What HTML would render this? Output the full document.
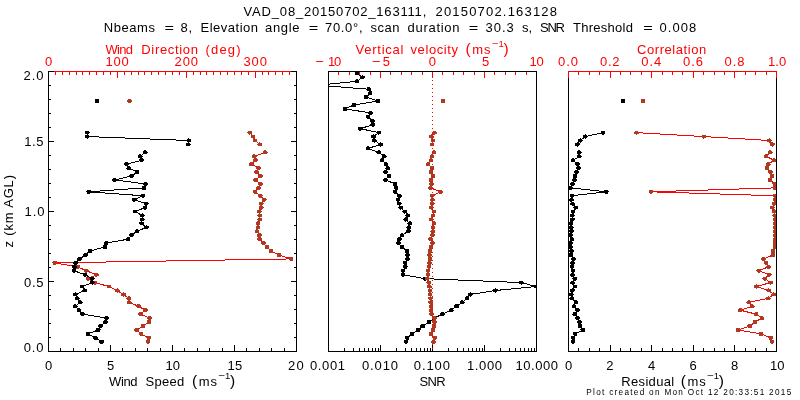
<!DOCTYPE html>
<html><head><meta charset="utf-8"><title>VAD plot</title>
<style>html,body{margin:0;padding:0;background:#fff}svg{display:block}svg{will-change:transform}</style></head>
<body>
<svg width="800" height="400" viewBox="0 0 800 400">
<rect width="800" height="400" fill="#fff"/>
<defs>
<clipPath id="c0"><rect x="48.0" y="71.0" width="249.0" height="281.0"/></clipPath>
<clipPath id="c1"><rect x="328.0" y="71.0" width="209.0" height="281.0"/></clipPath>
<clipPath id="c2"><rect x="568.0" y="71.0" width="209.0" height="281.0"/></clipPath>
</defs>
<g clip-path="url(#c0)">
<polyline points="148.00,341.80 148.75,337.85 141.25,333.91 136.50,329.96 143.10,326.01 149.00,322.06 149.40,318.12 140.60,314.17 145.60,310.22 138.50,306.28 129.40,302.33 128.75,298.38 123.50,294.44 117.25,290.49 109.00,286.54 95.00,282.60 88.10,278.65 96.50,274.70 86.25,270.75 77.75,266.81 54.75,262.86 291.25,258.91 279.00,254.97 271.00,251.02 267.25,247.07 263.50,243.12 259.60,239.18 259.40,235.23 256.90,231.28 258.10,227.34 258.10,223.39 259.60,219.44 259.60,215.50 259.40,211.55 261.25,207.60 261.25,203.66 264.40,199.71 260.25,195.76 255.00,191.81 258.50,187.87 260.60,183.92 255.60,179.97 260.40,176.03 256.50,172.08 258.50,168.13 251.40,164.19 255.40,160.24 254.40,156.29 265.25,152.34" fill="none" stroke="#ff0000" stroke-width="1" stroke-linejoin="round" shape-rendering="crispEdges"/>
<polyline points="259.75,144.45 255.00,140.50 253.10,136.56 249.75,132.61" fill="none" stroke="#ff0000" stroke-width="1" stroke-linejoin="round" shape-rendering="crispEdges"/>
<ellipse cx="148.00" cy="341.80" rx="2.4" ry="2.1" fill="#ae3a22" shape-rendering="crispEdges"/>
<ellipse cx="148.75" cy="337.85" rx="2.4" ry="2.1" fill="#ae3a22" shape-rendering="crispEdges"/>
<ellipse cx="141.25" cy="333.91" rx="2.4" ry="2.1" fill="#ae3a22" shape-rendering="crispEdges"/>
<ellipse cx="136.50" cy="329.96" rx="2.4" ry="2.1" fill="#ae3a22" shape-rendering="crispEdges"/>
<ellipse cx="143.10" cy="326.01" rx="2.4" ry="2.1" fill="#ae3a22" shape-rendering="crispEdges"/>
<ellipse cx="149.00" cy="322.06" rx="2.4" ry="2.1" fill="#ae3a22" shape-rendering="crispEdges"/>
<ellipse cx="149.40" cy="318.12" rx="2.4" ry="2.1" fill="#ae3a22" shape-rendering="crispEdges"/>
<ellipse cx="140.60" cy="314.17" rx="2.4" ry="2.1" fill="#ae3a22" shape-rendering="crispEdges"/>
<ellipse cx="145.60" cy="310.22" rx="2.4" ry="2.1" fill="#ae3a22" shape-rendering="crispEdges"/>
<ellipse cx="138.50" cy="306.28" rx="2.4" ry="2.1" fill="#ae3a22" shape-rendering="crispEdges"/>
<ellipse cx="129.40" cy="302.33" rx="2.4" ry="2.1" fill="#ae3a22" shape-rendering="crispEdges"/>
<ellipse cx="128.75" cy="298.38" rx="2.4" ry="2.1" fill="#ae3a22" shape-rendering="crispEdges"/>
<ellipse cx="123.50" cy="294.44" rx="2.4" ry="2.1" fill="#ae3a22" shape-rendering="crispEdges"/>
<ellipse cx="117.25" cy="290.49" rx="2.4" ry="2.1" fill="#ae3a22" shape-rendering="crispEdges"/>
<ellipse cx="109.00" cy="286.54" rx="2.4" ry="2.1" fill="#ae3a22" shape-rendering="crispEdges"/>
<ellipse cx="95.00" cy="282.60" rx="2.4" ry="2.1" fill="#ae3a22" shape-rendering="crispEdges"/>
<ellipse cx="88.10" cy="278.65" rx="2.4" ry="2.1" fill="#ae3a22" shape-rendering="crispEdges"/>
<ellipse cx="96.50" cy="274.70" rx="2.4" ry="2.1" fill="#ae3a22" shape-rendering="crispEdges"/>
<ellipse cx="86.25" cy="270.75" rx="2.4" ry="2.1" fill="#ae3a22" shape-rendering="crispEdges"/>
<ellipse cx="77.75" cy="266.81" rx="2.4" ry="2.1" fill="#ae3a22" shape-rendering="crispEdges"/>
<ellipse cx="54.75" cy="262.86" rx="2.4" ry="2.1" fill="#ae3a22" shape-rendering="crispEdges"/>
<ellipse cx="291.25" cy="258.91" rx="2.4" ry="2.1" fill="#ae3a22" shape-rendering="crispEdges"/>
<ellipse cx="279.00" cy="254.97" rx="2.4" ry="2.1" fill="#ae3a22" shape-rendering="crispEdges"/>
<ellipse cx="271.00" cy="251.02" rx="2.4" ry="2.1" fill="#ae3a22" shape-rendering="crispEdges"/>
<ellipse cx="267.25" cy="247.07" rx="2.4" ry="2.1" fill="#ae3a22" shape-rendering="crispEdges"/>
<ellipse cx="263.50" cy="243.12" rx="2.4" ry="2.1" fill="#ae3a22" shape-rendering="crispEdges"/>
<ellipse cx="259.60" cy="239.18" rx="2.4" ry="2.1" fill="#ae3a22" shape-rendering="crispEdges"/>
<ellipse cx="259.40" cy="235.23" rx="2.4" ry="2.1" fill="#ae3a22" shape-rendering="crispEdges"/>
<ellipse cx="256.90" cy="231.28" rx="2.4" ry="2.1" fill="#ae3a22" shape-rendering="crispEdges"/>
<ellipse cx="258.10" cy="227.34" rx="2.4" ry="2.1" fill="#ae3a22" shape-rendering="crispEdges"/>
<ellipse cx="258.10" cy="223.39" rx="2.4" ry="2.1" fill="#ae3a22" shape-rendering="crispEdges"/>
<ellipse cx="259.60" cy="219.44" rx="2.4" ry="2.1" fill="#ae3a22" shape-rendering="crispEdges"/>
<ellipse cx="259.60" cy="215.50" rx="2.4" ry="2.1" fill="#ae3a22" shape-rendering="crispEdges"/>
<ellipse cx="259.40" cy="211.55" rx="2.4" ry="2.1" fill="#ae3a22" shape-rendering="crispEdges"/>
<ellipse cx="261.25" cy="207.60" rx="2.4" ry="2.1" fill="#ae3a22" shape-rendering="crispEdges"/>
<ellipse cx="261.25" cy="203.66" rx="2.4" ry="2.1" fill="#ae3a22" shape-rendering="crispEdges"/>
<ellipse cx="264.40" cy="199.71" rx="2.4" ry="2.1" fill="#ae3a22" shape-rendering="crispEdges"/>
<ellipse cx="260.25" cy="195.76" rx="2.4" ry="2.1" fill="#ae3a22" shape-rendering="crispEdges"/>
<ellipse cx="255.00" cy="191.81" rx="2.4" ry="2.1" fill="#ae3a22" shape-rendering="crispEdges"/>
<ellipse cx="258.50" cy="187.87" rx="2.4" ry="2.1" fill="#ae3a22" shape-rendering="crispEdges"/>
<ellipse cx="260.60" cy="183.92" rx="2.4" ry="2.1" fill="#ae3a22" shape-rendering="crispEdges"/>
<ellipse cx="255.60" cy="179.97" rx="2.4" ry="2.1" fill="#ae3a22" shape-rendering="crispEdges"/>
<ellipse cx="260.40" cy="176.03" rx="2.4" ry="2.1" fill="#ae3a22" shape-rendering="crispEdges"/>
<ellipse cx="256.50" cy="172.08" rx="2.4" ry="2.1" fill="#ae3a22" shape-rendering="crispEdges"/>
<ellipse cx="258.50" cy="168.13" rx="2.4" ry="2.1" fill="#ae3a22" shape-rendering="crispEdges"/>
<ellipse cx="251.40" cy="164.19" rx="2.4" ry="2.1" fill="#ae3a22" shape-rendering="crispEdges"/>
<ellipse cx="255.40" cy="160.24" rx="2.4" ry="2.1" fill="#ae3a22" shape-rendering="crispEdges"/>
<ellipse cx="254.40" cy="156.29" rx="2.4" ry="2.1" fill="#ae3a22" shape-rendering="crispEdges"/>
<ellipse cx="265.25" cy="152.34" rx="2.4" ry="2.1" fill="#ae3a22" shape-rendering="crispEdges"/>
<ellipse cx="259.75" cy="144.45" rx="2.4" ry="2.1" fill="#ae3a22" shape-rendering="crispEdges"/>
<ellipse cx="255.00" cy="140.50" rx="2.4" ry="2.1" fill="#ae3a22" shape-rendering="crispEdges"/>
<ellipse cx="253.10" cy="136.56" rx="2.4" ry="2.1" fill="#ae3a22" shape-rendering="crispEdges"/>
<ellipse cx="249.75" cy="132.61" rx="2.4" ry="2.1" fill="#ae3a22" shape-rendering="crispEdges"/>
<ellipse cx="129.50" cy="101.03" rx="2.4" ry="2.1" fill="#ae3a22" shape-rendering="crispEdges"/>
</g>
<g clip-path="url(#c0)">
<polyline points="101.60,341.80 95.50,337.85 88.00,333.91 98.30,329.96 100.60,326.01 105.40,322.06 106.40,318.12 82.50,314.17 79.00,310.22 75.20,306.28 80.20,302.33 77.20,298.38 75.20,294.44 84.80,290.49 82.00,286.54 92.40,282.60 92.25,278.65 85.00,274.70 74.00,270.75 74.40,266.81 75.60,262.86 79.40,258.91 85.60,254.97 89.75,251.02 104.75,247.07 106.25,243.12 128.00,239.18 131.50,235.23 136.90,231.28 146.50,227.34 141.50,223.39 142.25,219.44 142.25,215.50 135.00,211.55 145.00,207.60 146.25,203.66 134.40,199.71 142.75,195.76 88.75,191.81 144.00,187.87 145.60,183.92 114.60,179.97 131.50,176.03 137.25,172.08 128.75,168.13 126.50,164.19 141.50,160.24 140.40,156.29 145.25,152.34" fill="none" stroke="#000" stroke-width="1" stroke-linejoin="round" shape-rendering="crispEdges"/>
<polyline points="188.25,144.45 188.75,140.50 87.25,136.56 87.25,132.61" fill="none" stroke="#000" stroke-width="1" stroke-linejoin="round" shape-rendering="crispEdges"/>
<ellipse cx="101.60" cy="341.80" rx="2.4" ry="2.1" fill="#000" shape-rendering="crispEdges"/>
<ellipse cx="95.50" cy="337.85" rx="2.4" ry="2.1" fill="#000" shape-rendering="crispEdges"/>
<ellipse cx="88.00" cy="333.91" rx="2.4" ry="2.1" fill="#000" shape-rendering="crispEdges"/>
<ellipse cx="98.30" cy="329.96" rx="2.4" ry="2.1" fill="#000" shape-rendering="crispEdges"/>
<ellipse cx="100.60" cy="326.01" rx="2.4" ry="2.1" fill="#000" shape-rendering="crispEdges"/>
<ellipse cx="105.40" cy="322.06" rx="2.4" ry="2.1" fill="#000" shape-rendering="crispEdges"/>
<ellipse cx="106.40" cy="318.12" rx="2.4" ry="2.1" fill="#000" shape-rendering="crispEdges"/>
<ellipse cx="82.50" cy="314.17" rx="2.4" ry="2.1" fill="#000" shape-rendering="crispEdges"/>
<ellipse cx="79.00" cy="310.22" rx="2.4" ry="2.1" fill="#000" shape-rendering="crispEdges"/>
<ellipse cx="75.20" cy="306.28" rx="2.4" ry="2.1" fill="#000" shape-rendering="crispEdges"/>
<ellipse cx="80.20" cy="302.33" rx="2.4" ry="2.1" fill="#000" shape-rendering="crispEdges"/>
<ellipse cx="77.20" cy="298.38" rx="2.4" ry="2.1" fill="#000" shape-rendering="crispEdges"/>
<ellipse cx="75.20" cy="294.44" rx="2.4" ry="2.1" fill="#000" shape-rendering="crispEdges"/>
<ellipse cx="84.80" cy="290.49" rx="2.4" ry="2.1" fill="#000" shape-rendering="crispEdges"/>
<ellipse cx="82.00" cy="286.54" rx="2.4" ry="2.1" fill="#000" shape-rendering="crispEdges"/>
<ellipse cx="92.40" cy="282.60" rx="2.4" ry="2.1" fill="#000" shape-rendering="crispEdges"/>
<ellipse cx="92.25" cy="278.65" rx="2.4" ry="2.1" fill="#000" shape-rendering="crispEdges"/>
<ellipse cx="85.00" cy="274.70" rx="2.4" ry="2.1" fill="#000" shape-rendering="crispEdges"/>
<ellipse cx="74.00" cy="270.75" rx="2.4" ry="2.1" fill="#000" shape-rendering="crispEdges"/>
<ellipse cx="74.40" cy="266.81" rx="2.4" ry="2.1" fill="#000" shape-rendering="crispEdges"/>
<ellipse cx="75.60" cy="262.86" rx="2.4" ry="2.1" fill="#000" shape-rendering="crispEdges"/>
<ellipse cx="79.40" cy="258.91" rx="2.4" ry="2.1" fill="#000" shape-rendering="crispEdges"/>
<ellipse cx="85.60" cy="254.97" rx="2.4" ry="2.1" fill="#000" shape-rendering="crispEdges"/>
<ellipse cx="89.75" cy="251.02" rx="2.4" ry="2.1" fill="#000" shape-rendering="crispEdges"/>
<ellipse cx="104.75" cy="247.07" rx="2.4" ry="2.1" fill="#000" shape-rendering="crispEdges"/>
<ellipse cx="106.25" cy="243.12" rx="2.4" ry="2.1" fill="#000" shape-rendering="crispEdges"/>
<ellipse cx="128.00" cy="239.18" rx="2.4" ry="2.1" fill="#000" shape-rendering="crispEdges"/>
<ellipse cx="131.50" cy="235.23" rx="2.4" ry="2.1" fill="#000" shape-rendering="crispEdges"/>
<ellipse cx="136.90" cy="231.28" rx="2.4" ry="2.1" fill="#000" shape-rendering="crispEdges"/>
<ellipse cx="146.50" cy="227.34" rx="2.4" ry="2.1" fill="#000" shape-rendering="crispEdges"/>
<ellipse cx="141.50" cy="223.39" rx="2.4" ry="2.1" fill="#000" shape-rendering="crispEdges"/>
<ellipse cx="142.25" cy="219.44" rx="2.4" ry="2.1" fill="#000" shape-rendering="crispEdges"/>
<ellipse cx="142.25" cy="215.50" rx="2.4" ry="2.1" fill="#000" shape-rendering="crispEdges"/>
<ellipse cx="135.00" cy="211.55" rx="2.4" ry="2.1" fill="#000" shape-rendering="crispEdges"/>
<ellipse cx="145.00" cy="207.60" rx="2.4" ry="2.1" fill="#000" shape-rendering="crispEdges"/>
<ellipse cx="146.25" cy="203.66" rx="2.4" ry="2.1" fill="#000" shape-rendering="crispEdges"/>
<ellipse cx="134.40" cy="199.71" rx="2.4" ry="2.1" fill="#000" shape-rendering="crispEdges"/>
<ellipse cx="142.75" cy="195.76" rx="2.4" ry="2.1" fill="#000" shape-rendering="crispEdges"/>
<ellipse cx="88.75" cy="191.81" rx="2.4" ry="2.1" fill="#000" shape-rendering="crispEdges"/>
<ellipse cx="144.00" cy="187.87" rx="2.4" ry="2.1" fill="#000" shape-rendering="crispEdges"/>
<ellipse cx="145.60" cy="183.92" rx="2.4" ry="2.1" fill="#000" shape-rendering="crispEdges"/>
<ellipse cx="114.60" cy="179.97" rx="2.4" ry="2.1" fill="#000" shape-rendering="crispEdges"/>
<ellipse cx="131.50" cy="176.03" rx="2.4" ry="2.1" fill="#000" shape-rendering="crispEdges"/>
<ellipse cx="137.25" cy="172.08" rx="2.4" ry="2.1" fill="#000" shape-rendering="crispEdges"/>
<ellipse cx="128.75" cy="168.13" rx="2.4" ry="2.1" fill="#000" shape-rendering="crispEdges"/>
<ellipse cx="126.50" cy="164.19" rx="2.4" ry="2.1" fill="#000" shape-rendering="crispEdges"/>
<ellipse cx="141.50" cy="160.24" rx="2.4" ry="2.1" fill="#000" shape-rendering="crispEdges"/>
<ellipse cx="140.40" cy="156.29" rx="2.4" ry="2.1" fill="#000" shape-rendering="crispEdges"/>
<ellipse cx="145.25" cy="152.34" rx="2.4" ry="2.1" fill="#000" shape-rendering="crispEdges"/>
<ellipse cx="188.25" cy="144.45" rx="2.4" ry="2.1" fill="#000" shape-rendering="crispEdges"/>
<ellipse cx="188.75" cy="140.50" rx="2.4" ry="2.1" fill="#000" shape-rendering="crispEdges"/>
<ellipse cx="87.25" cy="136.56" rx="2.4" ry="2.1" fill="#000" shape-rendering="crispEdges"/>
<ellipse cx="87.25" cy="132.61" rx="2.4" ry="2.1" fill="#000" shape-rendering="crispEdges"/>
<ellipse cx="97.00" cy="101.03" rx="2.4" ry="2.1" fill="#000" shape-rendering="crispEdges"/>
</g>
<g clip-path="url(#c1)">
<polyline points="406.00,341.80 407.25,337.85 412.00,333.91 418.30,329.96 422.70,326.01 429.20,322.06 434.00,318.12 442.50,314.17 451.25,310.22 456.60,306.28 462.30,302.33 467.00,298.38 470.50,294.44 495.50,290.49 536.25,286.54 521.25,282.60 425.00,278.65 403.10,274.70 403.10,270.75 405.25,266.81 405.25,262.86 407.50,258.91 407.50,254.97 406.90,251.02 401.90,247.07 398.50,243.12 399.40,239.18 401.90,235.23 408.50,231.28 408.75,227.34 409.75,223.39 405.60,219.44 407.75,215.50 404.75,211.55 400.60,207.60 399.40,203.66 398.10,199.71 399.40,195.76 395.00,191.81 396.25,187.87 395.00,183.92 385.60,179.97 388.75,176.03 385.60,172.08 387.75,168.13 386.00,164.19 381.90,160.24 384.40,156.29 378.60,152.34 368.10,148.40 380.60,144.45 374.40,140.50 373.50,136.56 378.75,132.61 360.25,128.66 372.75,124.72 372.50,120.77 368.10,116.82 370.60,112.87 345.00,108.93 353.75,104.98 377.75,101.03 366.25,97.09 370.25,93.14 368.75,89.19 318.00,85.25 356.90,81.30 362.50,77.35 356.90,73.40" fill="none" stroke="#000" stroke-width="1" stroke-linejoin="round" shape-rendering="crispEdges"/>
<ellipse cx="406.00" cy="341.80" rx="2.4" ry="2.1" fill="#000" shape-rendering="crispEdges"/>
<ellipse cx="407.25" cy="337.85" rx="2.4" ry="2.1" fill="#000" shape-rendering="crispEdges"/>
<ellipse cx="412.00" cy="333.91" rx="2.4" ry="2.1" fill="#000" shape-rendering="crispEdges"/>
<ellipse cx="418.30" cy="329.96" rx="2.4" ry="2.1" fill="#000" shape-rendering="crispEdges"/>
<ellipse cx="422.70" cy="326.01" rx="2.4" ry="2.1" fill="#000" shape-rendering="crispEdges"/>
<ellipse cx="429.20" cy="322.06" rx="2.4" ry="2.1" fill="#000" shape-rendering="crispEdges"/>
<ellipse cx="434.00" cy="318.12" rx="2.4" ry="2.1" fill="#000" shape-rendering="crispEdges"/>
<ellipse cx="442.50" cy="314.17" rx="2.4" ry="2.1" fill="#000" shape-rendering="crispEdges"/>
<ellipse cx="451.25" cy="310.22" rx="2.4" ry="2.1" fill="#000" shape-rendering="crispEdges"/>
<ellipse cx="456.60" cy="306.28" rx="2.4" ry="2.1" fill="#000" shape-rendering="crispEdges"/>
<ellipse cx="462.30" cy="302.33" rx="2.4" ry="2.1" fill="#000" shape-rendering="crispEdges"/>
<ellipse cx="467.00" cy="298.38" rx="2.4" ry="2.1" fill="#000" shape-rendering="crispEdges"/>
<ellipse cx="470.50" cy="294.44" rx="2.4" ry="2.1" fill="#000" shape-rendering="crispEdges"/>
<ellipse cx="495.50" cy="290.49" rx="2.4" ry="2.1" fill="#000" shape-rendering="crispEdges"/>
<ellipse cx="536.25" cy="286.54" rx="2.4" ry="2.1" fill="#000" shape-rendering="crispEdges"/>
<ellipse cx="521.25" cy="282.60" rx="2.4" ry="2.1" fill="#000" shape-rendering="crispEdges"/>
<ellipse cx="425.00" cy="278.65" rx="2.4" ry="2.1" fill="#000" shape-rendering="crispEdges"/>
<ellipse cx="403.10" cy="274.70" rx="2.4" ry="2.1" fill="#000" shape-rendering="crispEdges"/>
<ellipse cx="403.10" cy="270.75" rx="2.4" ry="2.1" fill="#000" shape-rendering="crispEdges"/>
<ellipse cx="405.25" cy="266.81" rx="2.4" ry="2.1" fill="#000" shape-rendering="crispEdges"/>
<ellipse cx="405.25" cy="262.86" rx="2.4" ry="2.1" fill="#000" shape-rendering="crispEdges"/>
<ellipse cx="407.50" cy="258.91" rx="2.4" ry="2.1" fill="#000" shape-rendering="crispEdges"/>
<ellipse cx="407.50" cy="254.97" rx="2.4" ry="2.1" fill="#000" shape-rendering="crispEdges"/>
<ellipse cx="406.90" cy="251.02" rx="2.4" ry="2.1" fill="#000" shape-rendering="crispEdges"/>
<ellipse cx="401.90" cy="247.07" rx="2.4" ry="2.1" fill="#000" shape-rendering="crispEdges"/>
<ellipse cx="398.50" cy="243.12" rx="2.4" ry="2.1" fill="#000" shape-rendering="crispEdges"/>
<ellipse cx="399.40" cy="239.18" rx="2.4" ry="2.1" fill="#000" shape-rendering="crispEdges"/>
<ellipse cx="401.90" cy="235.23" rx="2.4" ry="2.1" fill="#000" shape-rendering="crispEdges"/>
<ellipse cx="408.50" cy="231.28" rx="2.4" ry="2.1" fill="#000" shape-rendering="crispEdges"/>
<ellipse cx="408.75" cy="227.34" rx="2.4" ry="2.1" fill="#000" shape-rendering="crispEdges"/>
<ellipse cx="409.75" cy="223.39" rx="2.4" ry="2.1" fill="#000" shape-rendering="crispEdges"/>
<ellipse cx="405.60" cy="219.44" rx="2.4" ry="2.1" fill="#000" shape-rendering="crispEdges"/>
<ellipse cx="407.75" cy="215.50" rx="2.4" ry="2.1" fill="#000" shape-rendering="crispEdges"/>
<ellipse cx="404.75" cy="211.55" rx="2.4" ry="2.1" fill="#000" shape-rendering="crispEdges"/>
<ellipse cx="400.60" cy="207.60" rx="2.4" ry="2.1" fill="#000" shape-rendering="crispEdges"/>
<ellipse cx="399.40" cy="203.66" rx="2.4" ry="2.1" fill="#000" shape-rendering="crispEdges"/>
<ellipse cx="398.10" cy="199.71" rx="2.4" ry="2.1" fill="#000" shape-rendering="crispEdges"/>
<ellipse cx="399.40" cy="195.76" rx="2.4" ry="2.1" fill="#000" shape-rendering="crispEdges"/>
<ellipse cx="395.00" cy="191.81" rx="2.4" ry="2.1" fill="#000" shape-rendering="crispEdges"/>
<ellipse cx="396.25" cy="187.87" rx="2.4" ry="2.1" fill="#000" shape-rendering="crispEdges"/>
<ellipse cx="395.00" cy="183.92" rx="2.4" ry="2.1" fill="#000" shape-rendering="crispEdges"/>
<ellipse cx="385.60" cy="179.97" rx="2.4" ry="2.1" fill="#000" shape-rendering="crispEdges"/>
<ellipse cx="388.75" cy="176.03" rx="2.4" ry="2.1" fill="#000" shape-rendering="crispEdges"/>
<ellipse cx="385.60" cy="172.08" rx="2.4" ry="2.1" fill="#000" shape-rendering="crispEdges"/>
<ellipse cx="387.75" cy="168.13" rx="2.4" ry="2.1" fill="#000" shape-rendering="crispEdges"/>
<ellipse cx="386.00" cy="164.19" rx="2.4" ry="2.1" fill="#000" shape-rendering="crispEdges"/>
<ellipse cx="381.90" cy="160.24" rx="2.4" ry="2.1" fill="#000" shape-rendering="crispEdges"/>
<ellipse cx="384.40" cy="156.29" rx="2.4" ry="2.1" fill="#000" shape-rendering="crispEdges"/>
<ellipse cx="378.60" cy="152.34" rx="2.4" ry="2.1" fill="#000" shape-rendering="crispEdges"/>
<ellipse cx="368.10" cy="148.40" rx="2.4" ry="2.1" fill="#000" shape-rendering="crispEdges"/>
<ellipse cx="380.60" cy="144.45" rx="2.4" ry="2.1" fill="#000" shape-rendering="crispEdges"/>
<ellipse cx="374.40" cy="140.50" rx="2.4" ry="2.1" fill="#000" shape-rendering="crispEdges"/>
<ellipse cx="373.50" cy="136.56" rx="2.4" ry="2.1" fill="#000" shape-rendering="crispEdges"/>
<ellipse cx="378.75" cy="132.61" rx="2.4" ry="2.1" fill="#000" shape-rendering="crispEdges"/>
<ellipse cx="360.25" cy="128.66" rx="2.4" ry="2.1" fill="#000" shape-rendering="crispEdges"/>
<ellipse cx="372.75" cy="124.72" rx="2.4" ry="2.1" fill="#000" shape-rendering="crispEdges"/>
<ellipse cx="372.50" cy="120.77" rx="2.4" ry="2.1" fill="#000" shape-rendering="crispEdges"/>
<ellipse cx="368.10" cy="116.82" rx="2.4" ry="2.1" fill="#000" shape-rendering="crispEdges"/>
<ellipse cx="370.60" cy="112.87" rx="2.4" ry="2.1" fill="#000" shape-rendering="crispEdges"/>
<ellipse cx="345.00" cy="108.93" rx="2.4" ry="2.1" fill="#000" shape-rendering="crispEdges"/>
<ellipse cx="353.75" cy="104.98" rx="2.4" ry="2.1" fill="#000" shape-rendering="crispEdges"/>
<ellipse cx="377.75" cy="101.03" rx="2.4" ry="2.1" fill="#000" shape-rendering="crispEdges"/>
<ellipse cx="366.25" cy="97.09" rx="2.4" ry="2.1" fill="#000" shape-rendering="crispEdges"/>
<ellipse cx="370.25" cy="93.14" rx="2.4" ry="2.1" fill="#000" shape-rendering="crispEdges"/>
<ellipse cx="368.75" cy="89.19" rx="2.4" ry="2.1" fill="#000" shape-rendering="crispEdges"/>
<ellipse cx="318.00" cy="85.25" rx="2.4" ry="2.1" fill="#000" shape-rendering="crispEdges"/>
<ellipse cx="356.90" cy="81.30" rx="2.4" ry="2.1" fill="#000" shape-rendering="crispEdges"/>
<ellipse cx="362.50" cy="77.35" rx="2.4" ry="2.1" fill="#000" shape-rendering="crispEdges"/>
<ellipse cx="356.90" cy="73.40" rx="2.4" ry="2.1" fill="#000" shape-rendering="crispEdges"/>
</g>
<g clip-path="url(#c1)">
<polyline points="433.50,341.80 434.75,337.85 430.80,333.91 433.00,329.96 434.20,326.01 434.60,322.06 434.60,318.12 431.60,314.17 431.10,310.22 430.90,306.28 430.60,302.33 430.50,298.38 430.00,294.44 430.00,290.49 429.50,286.54 428.75,282.60 427.40,278.65 428.10,274.70 428.20,270.75 429.00,266.81 429.40,262.86 430.00,258.91 429.40,254.97 430.00,251.02 431.25,247.07 432.50,243.12 430.60,239.18 432.50,235.23 432.80,231.28 433.10,227.34 434.00,223.39 431.25,219.44 433.10,215.50 434.00,211.55 431.25,207.60 432.25,203.66 432.50,199.71 432.25,195.76 440.60,191.81 430.60,187.87 431.50,183.92 431.00,179.97 433.10,176.03 431.25,172.08 431.90,168.13 428.10,164.19 431.00,160.24 431.90,156.29 434.00,152.34" fill="none" stroke="#ff0000" stroke-width="1" stroke-linejoin="round" shape-rendering="crispEdges"/>
<polyline points="432.10,144.45 433.00,140.50 431.50,136.56 434.50,132.61" fill="none" stroke="#ff0000" stroke-width="1" stroke-linejoin="round" shape-rendering="crispEdges"/>
<ellipse cx="433.50" cy="341.80" rx="2.4" ry="2.1" fill="#ae3a22" shape-rendering="crispEdges"/>
<ellipse cx="434.75" cy="337.85" rx="2.4" ry="2.1" fill="#ae3a22" shape-rendering="crispEdges"/>
<ellipse cx="430.80" cy="333.91" rx="2.4" ry="2.1" fill="#ae3a22" shape-rendering="crispEdges"/>
<ellipse cx="433.00" cy="329.96" rx="2.4" ry="2.1" fill="#ae3a22" shape-rendering="crispEdges"/>
<ellipse cx="434.20" cy="326.01" rx="2.4" ry="2.1" fill="#ae3a22" shape-rendering="crispEdges"/>
<ellipse cx="434.60" cy="322.06" rx="2.4" ry="2.1" fill="#ae3a22" shape-rendering="crispEdges"/>
<ellipse cx="434.60" cy="318.12" rx="2.4" ry="2.1" fill="#ae3a22" shape-rendering="crispEdges"/>
<ellipse cx="431.60" cy="314.17" rx="2.4" ry="2.1" fill="#ae3a22" shape-rendering="crispEdges"/>
<ellipse cx="431.10" cy="310.22" rx="2.4" ry="2.1" fill="#ae3a22" shape-rendering="crispEdges"/>
<ellipse cx="430.90" cy="306.28" rx="2.4" ry="2.1" fill="#ae3a22" shape-rendering="crispEdges"/>
<ellipse cx="430.60" cy="302.33" rx="2.4" ry="2.1" fill="#ae3a22" shape-rendering="crispEdges"/>
<ellipse cx="430.50" cy="298.38" rx="2.4" ry="2.1" fill="#ae3a22" shape-rendering="crispEdges"/>
<ellipse cx="430.00" cy="294.44" rx="2.4" ry="2.1" fill="#ae3a22" shape-rendering="crispEdges"/>
<ellipse cx="430.00" cy="290.49" rx="2.4" ry="2.1" fill="#ae3a22" shape-rendering="crispEdges"/>
<ellipse cx="429.50" cy="286.54" rx="2.4" ry="2.1" fill="#ae3a22" shape-rendering="crispEdges"/>
<ellipse cx="428.75" cy="282.60" rx="2.4" ry="2.1" fill="#ae3a22" shape-rendering="crispEdges"/>
<ellipse cx="427.40" cy="278.65" rx="2.4" ry="2.1" fill="#ae3a22" shape-rendering="crispEdges"/>
<ellipse cx="428.10" cy="274.70" rx="2.4" ry="2.1" fill="#ae3a22" shape-rendering="crispEdges"/>
<ellipse cx="428.20" cy="270.75" rx="2.4" ry="2.1" fill="#ae3a22" shape-rendering="crispEdges"/>
<ellipse cx="429.00" cy="266.81" rx="2.4" ry="2.1" fill="#ae3a22" shape-rendering="crispEdges"/>
<ellipse cx="429.40" cy="262.86" rx="2.4" ry="2.1" fill="#ae3a22" shape-rendering="crispEdges"/>
<ellipse cx="430.00" cy="258.91" rx="2.4" ry="2.1" fill="#ae3a22" shape-rendering="crispEdges"/>
<ellipse cx="429.40" cy="254.97" rx="2.4" ry="2.1" fill="#ae3a22" shape-rendering="crispEdges"/>
<ellipse cx="430.00" cy="251.02" rx="2.4" ry="2.1" fill="#ae3a22" shape-rendering="crispEdges"/>
<ellipse cx="431.25" cy="247.07" rx="2.4" ry="2.1" fill="#ae3a22" shape-rendering="crispEdges"/>
<ellipse cx="432.50" cy="243.12" rx="2.4" ry="2.1" fill="#ae3a22" shape-rendering="crispEdges"/>
<ellipse cx="430.60" cy="239.18" rx="2.4" ry="2.1" fill="#ae3a22" shape-rendering="crispEdges"/>
<ellipse cx="432.50" cy="235.23" rx="2.4" ry="2.1" fill="#ae3a22" shape-rendering="crispEdges"/>
<ellipse cx="432.80" cy="231.28" rx="2.4" ry="2.1" fill="#ae3a22" shape-rendering="crispEdges"/>
<ellipse cx="433.10" cy="227.34" rx="2.4" ry="2.1" fill="#ae3a22" shape-rendering="crispEdges"/>
<ellipse cx="434.00" cy="223.39" rx="2.4" ry="2.1" fill="#ae3a22" shape-rendering="crispEdges"/>
<ellipse cx="431.25" cy="219.44" rx="2.4" ry="2.1" fill="#ae3a22" shape-rendering="crispEdges"/>
<ellipse cx="433.10" cy="215.50" rx="2.4" ry="2.1" fill="#ae3a22" shape-rendering="crispEdges"/>
<ellipse cx="434.00" cy="211.55" rx="2.4" ry="2.1" fill="#ae3a22" shape-rendering="crispEdges"/>
<ellipse cx="431.25" cy="207.60" rx="2.4" ry="2.1" fill="#ae3a22" shape-rendering="crispEdges"/>
<ellipse cx="432.25" cy="203.66" rx="2.4" ry="2.1" fill="#ae3a22" shape-rendering="crispEdges"/>
<ellipse cx="432.50" cy="199.71" rx="2.4" ry="2.1" fill="#ae3a22" shape-rendering="crispEdges"/>
<ellipse cx="432.25" cy="195.76" rx="2.4" ry="2.1" fill="#ae3a22" shape-rendering="crispEdges"/>
<ellipse cx="440.60" cy="191.81" rx="2.4" ry="2.1" fill="#ae3a22" shape-rendering="crispEdges"/>
<ellipse cx="430.60" cy="187.87" rx="2.4" ry="2.1" fill="#ae3a22" shape-rendering="crispEdges"/>
<ellipse cx="431.50" cy="183.92" rx="2.4" ry="2.1" fill="#ae3a22" shape-rendering="crispEdges"/>
<ellipse cx="431.00" cy="179.97" rx="2.4" ry="2.1" fill="#ae3a22" shape-rendering="crispEdges"/>
<ellipse cx="433.10" cy="176.03" rx="2.4" ry="2.1" fill="#ae3a22" shape-rendering="crispEdges"/>
<ellipse cx="431.25" cy="172.08" rx="2.4" ry="2.1" fill="#ae3a22" shape-rendering="crispEdges"/>
<ellipse cx="431.90" cy="168.13" rx="2.4" ry="2.1" fill="#ae3a22" shape-rendering="crispEdges"/>
<ellipse cx="428.10" cy="164.19" rx="2.4" ry="2.1" fill="#ae3a22" shape-rendering="crispEdges"/>
<ellipse cx="431.00" cy="160.24" rx="2.4" ry="2.1" fill="#ae3a22" shape-rendering="crispEdges"/>
<ellipse cx="431.90" cy="156.29" rx="2.4" ry="2.1" fill="#ae3a22" shape-rendering="crispEdges"/>
<ellipse cx="434.00" cy="152.34" rx="2.4" ry="2.1" fill="#ae3a22" shape-rendering="crispEdges"/>
<ellipse cx="432.10" cy="144.45" rx="2.4" ry="2.1" fill="#ae3a22" shape-rendering="crispEdges"/>
<ellipse cx="433.00" cy="140.50" rx="2.4" ry="2.1" fill="#ae3a22" shape-rendering="crispEdges"/>
<ellipse cx="431.50" cy="136.56" rx="2.4" ry="2.1" fill="#ae3a22" shape-rendering="crispEdges"/>
<ellipse cx="434.50" cy="132.61" rx="2.4" ry="2.1" fill="#ae3a22" shape-rendering="crispEdges"/>
<ellipse cx="442.90" cy="101.03" rx="2.4" ry="2.1" fill="#ae3a22" shape-rendering="crispEdges"/>
</g>
<g clip-path="url(#c2)">
<polyline points="771.90,341.80 770.70,337.85 760.90,333.91 738.10,329.96 749.70,326.01 755.00,322.06 761.80,318.12 756.20,314.17 740.40,310.22 752.20,306.28 748.70,302.33 768.40,298.38 773.70,294.44 768.80,290.49 756.50,286.54 770.60,282.60 764.75,278.65 769.40,274.70 758.75,270.75 768.50,266.81 766.25,262.86 763.50,258.91 773.10,254.97 773.10,251.02 774.75,247.07 775.00,243.12 775.00,239.18 775.20,235.23 775.00,231.28 775.20,227.34 775.00,223.39 775.00,219.44 774.80,215.50 774.40,211.55 772.25,207.60 774.40,203.66 775.00,199.71 774.75,195.76 651.00,191.81 775.00,187.87 774.75,183.92 770.00,179.97 771.90,176.03 770.60,172.08 766.90,168.13 768.30,164.19 773.90,160.24 766.00,156.29 770.25,152.34" fill="none" stroke="#ff0000" stroke-width="1" stroke-linejoin="round" shape-rendering="crispEdges"/>
<polyline points="772.50,144.45 769.40,140.50 703.75,136.56 636.50,132.61" fill="none" stroke="#ff0000" stroke-width="1" stroke-linejoin="round" shape-rendering="crispEdges"/>
<ellipse cx="771.90" cy="341.80" rx="2.4" ry="2.1" fill="#ae3a22" shape-rendering="crispEdges"/>
<ellipse cx="770.70" cy="337.85" rx="2.4" ry="2.1" fill="#ae3a22" shape-rendering="crispEdges"/>
<ellipse cx="760.90" cy="333.91" rx="2.4" ry="2.1" fill="#ae3a22" shape-rendering="crispEdges"/>
<ellipse cx="738.10" cy="329.96" rx="2.4" ry="2.1" fill="#ae3a22" shape-rendering="crispEdges"/>
<ellipse cx="749.70" cy="326.01" rx="2.4" ry="2.1" fill="#ae3a22" shape-rendering="crispEdges"/>
<ellipse cx="755.00" cy="322.06" rx="2.4" ry="2.1" fill="#ae3a22" shape-rendering="crispEdges"/>
<ellipse cx="761.80" cy="318.12" rx="2.4" ry="2.1" fill="#ae3a22" shape-rendering="crispEdges"/>
<ellipse cx="756.20" cy="314.17" rx="2.4" ry="2.1" fill="#ae3a22" shape-rendering="crispEdges"/>
<ellipse cx="740.40" cy="310.22" rx="2.4" ry="2.1" fill="#ae3a22" shape-rendering="crispEdges"/>
<ellipse cx="752.20" cy="306.28" rx="2.4" ry="2.1" fill="#ae3a22" shape-rendering="crispEdges"/>
<ellipse cx="748.70" cy="302.33" rx="2.4" ry="2.1" fill="#ae3a22" shape-rendering="crispEdges"/>
<ellipse cx="768.40" cy="298.38" rx="2.4" ry="2.1" fill="#ae3a22" shape-rendering="crispEdges"/>
<ellipse cx="773.70" cy="294.44" rx="2.4" ry="2.1" fill="#ae3a22" shape-rendering="crispEdges"/>
<ellipse cx="768.80" cy="290.49" rx="2.4" ry="2.1" fill="#ae3a22" shape-rendering="crispEdges"/>
<ellipse cx="756.50" cy="286.54" rx="2.4" ry="2.1" fill="#ae3a22" shape-rendering="crispEdges"/>
<ellipse cx="770.60" cy="282.60" rx="2.4" ry="2.1" fill="#ae3a22" shape-rendering="crispEdges"/>
<ellipse cx="764.75" cy="278.65" rx="2.4" ry="2.1" fill="#ae3a22" shape-rendering="crispEdges"/>
<ellipse cx="769.40" cy="274.70" rx="2.4" ry="2.1" fill="#ae3a22" shape-rendering="crispEdges"/>
<ellipse cx="758.75" cy="270.75" rx="2.4" ry="2.1" fill="#ae3a22" shape-rendering="crispEdges"/>
<ellipse cx="768.50" cy="266.81" rx="2.4" ry="2.1" fill="#ae3a22" shape-rendering="crispEdges"/>
<ellipse cx="766.25" cy="262.86" rx="2.4" ry="2.1" fill="#ae3a22" shape-rendering="crispEdges"/>
<ellipse cx="763.50" cy="258.91" rx="2.4" ry="2.1" fill="#ae3a22" shape-rendering="crispEdges"/>
<ellipse cx="773.10" cy="254.97" rx="2.4" ry="2.1" fill="#ae3a22" shape-rendering="crispEdges"/>
<ellipse cx="773.10" cy="251.02" rx="2.4" ry="2.1" fill="#ae3a22" shape-rendering="crispEdges"/>
<ellipse cx="774.75" cy="247.07" rx="2.4" ry="2.1" fill="#ae3a22" shape-rendering="crispEdges"/>
<ellipse cx="775.00" cy="243.12" rx="2.4" ry="2.1" fill="#ae3a22" shape-rendering="crispEdges"/>
<ellipse cx="775.00" cy="239.18" rx="2.4" ry="2.1" fill="#ae3a22" shape-rendering="crispEdges"/>
<ellipse cx="775.20" cy="235.23" rx="2.4" ry="2.1" fill="#ae3a22" shape-rendering="crispEdges"/>
<ellipse cx="775.00" cy="231.28" rx="2.4" ry="2.1" fill="#ae3a22" shape-rendering="crispEdges"/>
<ellipse cx="775.20" cy="227.34" rx="2.4" ry="2.1" fill="#ae3a22" shape-rendering="crispEdges"/>
<ellipse cx="775.00" cy="223.39" rx="2.4" ry="2.1" fill="#ae3a22" shape-rendering="crispEdges"/>
<ellipse cx="775.00" cy="219.44" rx="2.4" ry="2.1" fill="#ae3a22" shape-rendering="crispEdges"/>
<ellipse cx="774.80" cy="215.50" rx="2.4" ry="2.1" fill="#ae3a22" shape-rendering="crispEdges"/>
<ellipse cx="774.40" cy="211.55" rx="2.4" ry="2.1" fill="#ae3a22" shape-rendering="crispEdges"/>
<ellipse cx="772.25" cy="207.60" rx="2.4" ry="2.1" fill="#ae3a22" shape-rendering="crispEdges"/>
<ellipse cx="774.40" cy="203.66" rx="2.4" ry="2.1" fill="#ae3a22" shape-rendering="crispEdges"/>
<ellipse cx="775.00" cy="199.71" rx="2.4" ry="2.1" fill="#ae3a22" shape-rendering="crispEdges"/>
<ellipse cx="774.75" cy="195.76" rx="2.4" ry="2.1" fill="#ae3a22" shape-rendering="crispEdges"/>
<ellipse cx="651.00" cy="191.81" rx="2.4" ry="2.1" fill="#ae3a22" shape-rendering="crispEdges"/>
<ellipse cx="775.00" cy="187.87" rx="2.4" ry="2.1" fill="#ae3a22" shape-rendering="crispEdges"/>
<ellipse cx="774.75" cy="183.92" rx="2.4" ry="2.1" fill="#ae3a22" shape-rendering="crispEdges"/>
<ellipse cx="770.00" cy="179.97" rx="2.4" ry="2.1" fill="#ae3a22" shape-rendering="crispEdges"/>
<ellipse cx="771.90" cy="176.03" rx="2.4" ry="2.1" fill="#ae3a22" shape-rendering="crispEdges"/>
<ellipse cx="770.60" cy="172.08" rx="2.4" ry="2.1" fill="#ae3a22" shape-rendering="crispEdges"/>
<ellipse cx="766.90" cy="168.13" rx="2.4" ry="2.1" fill="#ae3a22" shape-rendering="crispEdges"/>
<ellipse cx="768.30" cy="164.19" rx="2.4" ry="2.1" fill="#ae3a22" shape-rendering="crispEdges"/>
<ellipse cx="773.90" cy="160.24" rx="2.4" ry="2.1" fill="#ae3a22" shape-rendering="crispEdges"/>
<ellipse cx="766.00" cy="156.29" rx="2.4" ry="2.1" fill="#ae3a22" shape-rendering="crispEdges"/>
<ellipse cx="770.25" cy="152.34" rx="2.4" ry="2.1" fill="#ae3a22" shape-rendering="crispEdges"/>
<ellipse cx="772.50" cy="144.45" rx="2.4" ry="2.1" fill="#ae3a22" shape-rendering="crispEdges"/>
<ellipse cx="769.40" cy="140.50" rx="2.4" ry="2.1" fill="#ae3a22" shape-rendering="crispEdges"/>
<ellipse cx="703.75" cy="136.56" rx="2.4" ry="2.1" fill="#ae3a22" shape-rendering="crispEdges"/>
<ellipse cx="636.50" cy="132.61" rx="2.4" ry="2.1" fill="#ae3a22" shape-rendering="crispEdges"/>
<ellipse cx="643.10" cy="101.03" rx="2.4" ry="2.1" fill="#ae3a22" shape-rendering="crispEdges"/>
</g>
<g clip-path="url(#c2)">
<polyline points="573.10,341.80 573.10,337.85 575.25,333.91 582.75,329.96 580.00,326.01 579.40,322.06 577.50,318.12 574.75,314.17 577.50,310.22 574.00,306.28 576.00,302.33 571.70,298.38 571.25,294.44 572.50,290.49 575.00,286.54 572.50,282.60 574.75,278.65 572.50,274.70 573.10,270.75 571.90,266.81 572.50,262.86 573.50,258.91 571.00,254.97 571.40,251.02 570.60,247.07 570.60,243.12 571.90,239.18 570.60,235.23 571.50,231.28 571.25,227.34 571.00,223.39 572.50,219.44 572.25,215.50 573.10,211.55 575.60,207.60 572.50,203.66 571.50,199.71 571.90,195.76 606.25,191.81 570.60,187.87 572.50,183.92 574.40,179.97 575.00,176.03 576.60,172.08 578.60,168.13 577.50,164.19 573.10,160.24 579.40,156.29 579.40,152.34" fill="none" stroke="#000" stroke-width="1" stroke-linejoin="round" shape-rendering="crispEdges"/>
<polyline points="577.50,144.45 580.25,140.50 585.40,136.56 603.10,132.61" fill="none" stroke="#000" stroke-width="1" stroke-linejoin="round" shape-rendering="crispEdges"/>
<ellipse cx="573.10" cy="341.80" rx="2.4" ry="2.1" fill="#000" shape-rendering="crispEdges"/>
<ellipse cx="573.10" cy="337.85" rx="2.4" ry="2.1" fill="#000" shape-rendering="crispEdges"/>
<ellipse cx="575.25" cy="333.91" rx="2.4" ry="2.1" fill="#000" shape-rendering="crispEdges"/>
<ellipse cx="582.75" cy="329.96" rx="2.4" ry="2.1" fill="#000" shape-rendering="crispEdges"/>
<ellipse cx="580.00" cy="326.01" rx="2.4" ry="2.1" fill="#000" shape-rendering="crispEdges"/>
<ellipse cx="579.40" cy="322.06" rx="2.4" ry="2.1" fill="#000" shape-rendering="crispEdges"/>
<ellipse cx="577.50" cy="318.12" rx="2.4" ry="2.1" fill="#000" shape-rendering="crispEdges"/>
<ellipse cx="574.75" cy="314.17" rx="2.4" ry="2.1" fill="#000" shape-rendering="crispEdges"/>
<ellipse cx="577.50" cy="310.22" rx="2.4" ry="2.1" fill="#000" shape-rendering="crispEdges"/>
<ellipse cx="574.00" cy="306.28" rx="2.4" ry="2.1" fill="#000" shape-rendering="crispEdges"/>
<ellipse cx="576.00" cy="302.33" rx="2.4" ry="2.1" fill="#000" shape-rendering="crispEdges"/>
<ellipse cx="571.70" cy="298.38" rx="2.4" ry="2.1" fill="#000" shape-rendering="crispEdges"/>
<ellipse cx="571.25" cy="294.44" rx="2.4" ry="2.1" fill="#000" shape-rendering="crispEdges"/>
<ellipse cx="572.50" cy="290.49" rx="2.4" ry="2.1" fill="#000" shape-rendering="crispEdges"/>
<ellipse cx="575.00" cy="286.54" rx="2.4" ry="2.1" fill="#000" shape-rendering="crispEdges"/>
<ellipse cx="572.50" cy="282.60" rx="2.4" ry="2.1" fill="#000" shape-rendering="crispEdges"/>
<ellipse cx="574.75" cy="278.65" rx="2.4" ry="2.1" fill="#000" shape-rendering="crispEdges"/>
<ellipse cx="572.50" cy="274.70" rx="2.4" ry="2.1" fill="#000" shape-rendering="crispEdges"/>
<ellipse cx="573.10" cy="270.75" rx="2.4" ry="2.1" fill="#000" shape-rendering="crispEdges"/>
<ellipse cx="571.90" cy="266.81" rx="2.4" ry="2.1" fill="#000" shape-rendering="crispEdges"/>
<ellipse cx="572.50" cy="262.86" rx="2.4" ry="2.1" fill="#000" shape-rendering="crispEdges"/>
<ellipse cx="573.50" cy="258.91" rx="2.4" ry="2.1" fill="#000" shape-rendering="crispEdges"/>
<ellipse cx="571.00" cy="254.97" rx="2.4" ry="2.1" fill="#000" shape-rendering="crispEdges"/>
<ellipse cx="571.40" cy="251.02" rx="2.4" ry="2.1" fill="#000" shape-rendering="crispEdges"/>
<ellipse cx="570.60" cy="247.07" rx="2.4" ry="2.1" fill="#000" shape-rendering="crispEdges"/>
<ellipse cx="570.60" cy="243.12" rx="2.4" ry="2.1" fill="#000" shape-rendering="crispEdges"/>
<ellipse cx="571.90" cy="239.18" rx="2.4" ry="2.1" fill="#000" shape-rendering="crispEdges"/>
<ellipse cx="570.60" cy="235.23" rx="2.4" ry="2.1" fill="#000" shape-rendering="crispEdges"/>
<ellipse cx="571.50" cy="231.28" rx="2.4" ry="2.1" fill="#000" shape-rendering="crispEdges"/>
<ellipse cx="571.25" cy="227.34" rx="2.4" ry="2.1" fill="#000" shape-rendering="crispEdges"/>
<ellipse cx="571.00" cy="223.39" rx="2.4" ry="2.1" fill="#000" shape-rendering="crispEdges"/>
<ellipse cx="572.50" cy="219.44" rx="2.4" ry="2.1" fill="#000" shape-rendering="crispEdges"/>
<ellipse cx="572.25" cy="215.50" rx="2.4" ry="2.1" fill="#000" shape-rendering="crispEdges"/>
<ellipse cx="573.10" cy="211.55" rx="2.4" ry="2.1" fill="#000" shape-rendering="crispEdges"/>
<ellipse cx="575.60" cy="207.60" rx="2.4" ry="2.1" fill="#000" shape-rendering="crispEdges"/>
<ellipse cx="572.50" cy="203.66" rx="2.4" ry="2.1" fill="#000" shape-rendering="crispEdges"/>
<ellipse cx="571.50" cy="199.71" rx="2.4" ry="2.1" fill="#000" shape-rendering="crispEdges"/>
<ellipse cx="571.90" cy="195.76" rx="2.4" ry="2.1" fill="#000" shape-rendering="crispEdges"/>
<ellipse cx="606.25" cy="191.81" rx="2.4" ry="2.1" fill="#000" shape-rendering="crispEdges"/>
<ellipse cx="570.60" cy="187.87" rx="2.4" ry="2.1" fill="#000" shape-rendering="crispEdges"/>
<ellipse cx="572.50" cy="183.92" rx="2.4" ry="2.1" fill="#000" shape-rendering="crispEdges"/>
<ellipse cx="574.40" cy="179.97" rx="2.4" ry="2.1" fill="#000" shape-rendering="crispEdges"/>
<ellipse cx="575.00" cy="176.03" rx="2.4" ry="2.1" fill="#000" shape-rendering="crispEdges"/>
<ellipse cx="576.60" cy="172.08" rx="2.4" ry="2.1" fill="#000" shape-rendering="crispEdges"/>
<ellipse cx="578.60" cy="168.13" rx="2.4" ry="2.1" fill="#000" shape-rendering="crispEdges"/>
<ellipse cx="577.50" cy="164.19" rx="2.4" ry="2.1" fill="#000" shape-rendering="crispEdges"/>
<ellipse cx="573.10" cy="160.24" rx="2.4" ry="2.1" fill="#000" shape-rendering="crispEdges"/>
<ellipse cx="579.40" cy="156.29" rx="2.4" ry="2.1" fill="#000" shape-rendering="crispEdges"/>
<ellipse cx="579.40" cy="152.34" rx="2.4" ry="2.1" fill="#000" shape-rendering="crispEdges"/>
<ellipse cx="577.50" cy="144.45" rx="2.4" ry="2.1" fill="#000" shape-rendering="crispEdges"/>
<ellipse cx="580.25" cy="140.50" rx="2.4" ry="2.1" fill="#000" shape-rendering="crispEdges"/>
<ellipse cx="585.40" cy="136.56" rx="2.4" ry="2.1" fill="#000" shape-rendering="crispEdges"/>
<ellipse cx="603.10" cy="132.61" rx="2.4" ry="2.1" fill="#000" shape-rendering="crispEdges"/>
<ellipse cx="622.90" cy="101.03" rx="2.4" ry="2.1" fill="#000" shape-rendering="crispEdges"/>
</g>
<g font-family="'Liberation Sans', sans-serif" shape-rendering="crispEdges" class="t">
<rect x="48" y="71" width="249" height="1" fill="#ff0000"/>
<rect x="48" y="71" width="1" height="7" fill="#ff0000"/>
<rect x="55" y="71" width="1" height="4" fill="#ff0000"/>
<rect x="62" y="71" width="1" height="4" fill="#ff0000"/>
<rect x="69" y="71" width="1" height="4" fill="#ff0000"/>
<rect x="76" y="71" width="1" height="4" fill="#ff0000"/>
<rect x="82" y="71" width="1" height="4" fill="#ff0000"/>
<rect x="89" y="71" width="1" height="4" fill="#ff0000"/>
<rect x="96" y="71" width="1" height="4" fill="#ff0000"/>
<rect x="103" y="71" width="1" height="4" fill="#ff0000"/>
<rect x="110" y="71" width="1" height="4" fill="#ff0000"/>
<rect x="117" y="71" width="1" height="7" fill="#ff0000"/>
<rect x="124" y="71" width="1" height="4" fill="#ff0000"/>
<rect x="131" y="71" width="1" height="4" fill="#ff0000"/>
<rect x="138" y="71" width="1" height="4" fill="#ff0000"/>
<rect x="144" y="71" width="1" height="4" fill="#ff0000"/>
<rect x="151" y="71" width="1" height="4" fill="#ff0000"/>
<rect x="158" y="71" width="1" height="4" fill="#ff0000"/>
<rect x="165" y="71" width="1" height="4" fill="#ff0000"/>
<rect x="172" y="71" width="1" height="4" fill="#ff0000"/>
<rect x="179" y="71" width="1" height="4" fill="#ff0000"/>
<rect x="186" y="71" width="1" height="7" fill="#ff0000"/>
<rect x="193" y="71" width="1" height="4" fill="#ff0000"/>
<rect x="200" y="71" width="1" height="4" fill="#ff0000"/>
<rect x="206" y="71" width="1" height="4" fill="#ff0000"/>
<rect x="213" y="71" width="1" height="4" fill="#ff0000"/>
<rect x="220" y="71" width="1" height="4" fill="#ff0000"/>
<rect x="227" y="71" width="1" height="4" fill="#ff0000"/>
<rect x="234" y="71" width="1" height="4" fill="#ff0000"/>
<rect x="241" y="71" width="1" height="4" fill="#ff0000"/>
<rect x="248" y="71" width="1" height="4" fill="#ff0000"/>
<rect x="255" y="71" width="1" height="7" fill="#ff0000"/>
<rect x="262" y="71" width="1" height="4" fill="#ff0000"/>
<rect x="268" y="71" width="1" height="4" fill="#ff0000"/>
<rect x="275" y="71" width="1" height="4" fill="#ff0000"/>
<rect x="282" y="71" width="1" height="4" fill="#ff0000"/>
<rect x="289" y="71" width="1" height="4" fill="#ff0000"/>
<rect x="296" y="71" width="1" height="4" fill="#ff0000"/>
<rect x="48" y="351" width="249" height="1" fill="#000"/>
<rect x="48" y="345" width="1" height="7" fill="#000"/>
<rect x="60" y="348" width="1" height="4" fill="#000"/>
<rect x="73" y="348" width="1" height="4" fill="#000"/>
<rect x="85" y="348" width="1" height="4" fill="#000"/>
<rect x="98" y="348" width="1" height="4" fill="#000"/>
<rect x="110" y="345" width="1" height="7" fill="#000"/>
<rect x="122" y="348" width="1" height="4" fill="#000"/>
<rect x="135" y="348" width="1" height="4" fill="#000"/>
<rect x="147" y="348" width="1" height="4" fill="#000"/>
<rect x="160" y="348" width="1" height="4" fill="#000"/>
<rect x="172" y="345" width="1" height="7" fill="#000"/>
<rect x="184" y="348" width="1" height="4" fill="#000"/>
<rect x="197" y="348" width="1" height="4" fill="#000"/>
<rect x="209" y="348" width="1" height="4" fill="#000"/>
<rect x="222" y="348" width="1" height="4" fill="#000"/>
<rect x="234" y="345" width="1" height="7" fill="#000"/>
<rect x="246" y="348" width="1" height="4" fill="#000"/>
<rect x="259" y="348" width="1" height="4" fill="#000"/>
<rect x="271" y="348" width="1" height="4" fill="#000"/>
<rect x="284" y="348" width="1" height="4" fill="#000"/>
<rect x="296" y="345" width="1" height="7" fill="#000"/>
<rect x="48" y="71" width="1" height="281" fill="#000"/>
<rect x="296" y="71" width="1" height="281" fill="#000"/>
<rect x="48" y="351" width="6" height="1" fill="#000"/>
<rect x="291" y="351" width="6" height="1" fill="#000"/>
<rect x="48" y="337" width="3" height="1" fill="#000"/>
<rect x="294" y="337" width="3" height="1" fill="#000"/>
<rect x="48" y="323" width="3" height="1" fill="#000"/>
<rect x="294" y="323" width="3" height="1" fill="#000"/>
<rect x="48" y="309" width="3" height="1" fill="#000"/>
<rect x="294" y="309" width="3" height="1" fill="#000"/>
<rect x="48" y="295" width="3" height="1" fill="#000"/>
<rect x="294" y="295" width="3" height="1" fill="#000"/>
<rect x="48" y="281" width="6" height="1" fill="#000"/>
<rect x="291" y="281" width="6" height="1" fill="#000"/>
<rect x="48" y="267" width="3" height="1" fill="#000"/>
<rect x="294" y="267" width="3" height="1" fill="#000"/>
<rect x="48" y="253" width="3" height="1" fill="#000"/>
<rect x="294" y="253" width="3" height="1" fill="#000"/>
<rect x="48" y="239" width="3" height="1" fill="#000"/>
<rect x="294" y="239" width="3" height="1" fill="#000"/>
<rect x="48" y="225" width="3" height="1" fill="#000"/>
<rect x="294" y="225" width="3" height="1" fill="#000"/>
<rect x="48" y="211" width="6" height="1" fill="#000"/>
<rect x="291" y="211" width="6" height="1" fill="#000"/>
<rect x="48" y="197" width="3" height="1" fill="#000"/>
<rect x="294" y="197" width="3" height="1" fill="#000"/>
<rect x="48" y="183" width="3" height="1" fill="#000"/>
<rect x="294" y="183" width="3" height="1" fill="#000"/>
<rect x="48" y="169" width="3" height="1" fill="#000"/>
<rect x="294" y="169" width="3" height="1" fill="#000"/>
<rect x="48" y="155" width="3" height="1" fill="#000"/>
<rect x="294" y="155" width="3" height="1" fill="#000"/>
<rect x="48" y="141" width="6" height="1" fill="#000"/>
<rect x="291" y="141" width="6" height="1" fill="#000"/>
<rect x="48" y="127" width="3" height="1" fill="#000"/>
<rect x="294" y="127" width="3" height="1" fill="#000"/>
<rect x="48" y="113" width="3" height="1" fill="#000"/>
<rect x="294" y="113" width="3" height="1" fill="#000"/>
<rect x="48" y="99" width="3" height="1" fill="#000"/>
<rect x="294" y="99" width="3" height="1" fill="#000"/>
<rect x="48" y="85" width="3" height="1" fill="#000"/>
<rect x="294" y="85" width="3" height="1" fill="#000"/>
<rect x="48" y="71" width="6" height="1" fill="#000"/>
<rect x="291" y="71" width="6" height="1" fill="#000"/>
<rect x="328" y="71" width="1" height="7" fill="#ff0000"/>
<rect x="338" y="71" width="1" height="4" fill="#ff0000"/>
<rect x="349" y="71" width="1" height="4" fill="#ff0000"/>
<rect x="359" y="71" width="1" height="4" fill="#ff0000"/>
<rect x="370" y="71" width="1" height="4" fill="#ff0000"/>
<rect x="380" y="71" width="1" height="7" fill="#ff0000"/>
<rect x="390" y="71" width="1" height="4" fill="#ff0000"/>
<rect x="401" y="71" width="1" height="4" fill="#ff0000"/>
<rect x="411" y="71" width="1" height="4" fill="#ff0000"/>
<rect x="422" y="71" width="1" height="4" fill="#ff0000"/>
<rect x="432" y="71" width="1" height="7" fill="#ff0000"/>
<rect x="442" y="71" width="1" height="4" fill="#ff0000"/>
<rect x="453" y="71" width="1" height="4" fill="#ff0000"/>
<rect x="463" y="71" width="1" height="4" fill="#ff0000"/>
<rect x="474" y="71" width="1" height="4" fill="#ff0000"/>
<rect x="484" y="71" width="1" height="7" fill="#ff0000"/>
<rect x="494" y="71" width="1" height="4" fill="#ff0000"/>
<rect x="505" y="71" width="1" height="4" fill="#ff0000"/>
<rect x="515" y="71" width="1" height="4" fill="#ff0000"/>
<rect x="526" y="71" width="1" height="4" fill="#ff0000"/>
<rect x="536" y="71" width="1" height="7" fill="#ff0000"/>
<rect x="328" y="71" width="209" height="1" fill="#000"/>
<rect x="328" y="351" width="209" height="1" fill="#000"/>
<rect x="328" y="345" width="1" height="7" fill="#000"/>
<rect x="344" y="348" width="1" height="4" fill="#000"/>
<rect x="353" y="348" width="1" height="4" fill="#000"/>
<rect x="359" y="348" width="1" height="4" fill="#000"/>
<rect x="364" y="348" width="1" height="4" fill="#000"/>
<rect x="368" y="348" width="1" height="4" fill="#000"/>
<rect x="372" y="348" width="1" height="4" fill="#000"/>
<rect x="375" y="348" width="1" height="4" fill="#000"/>
<rect x="378" y="348" width="1" height="4" fill="#000"/>
<rect x="380" y="345" width="1" height="7" fill="#000"/>
<rect x="396" y="348" width="1" height="4" fill="#000"/>
<rect x="405" y="348" width="1" height="4" fill="#000"/>
<rect x="411" y="348" width="1" height="4" fill="#000"/>
<rect x="416" y="348" width="1" height="4" fill="#000"/>
<rect x="420" y="348" width="1" height="4" fill="#000"/>
<rect x="424" y="348" width="1" height="4" fill="#000"/>
<rect x="427" y="348" width="1" height="4" fill="#000"/>
<rect x="430" y="348" width="1" height="4" fill="#000"/>
<rect x="432" y="345" width="1" height="7" fill="#000"/>
<rect x="448" y="348" width="1" height="4" fill="#000"/>
<rect x="457" y="348" width="1" height="4" fill="#000"/>
<rect x="463" y="348" width="1" height="4" fill="#000"/>
<rect x="468" y="348" width="1" height="4" fill="#000"/>
<rect x="472" y="348" width="1" height="4" fill="#000"/>
<rect x="476" y="348" width="1" height="4" fill="#000"/>
<rect x="479" y="348" width="1" height="4" fill="#000"/>
<rect x="482" y="348" width="1" height="4" fill="#000"/>
<rect x="484" y="345" width="1" height="7" fill="#000"/>
<rect x="500" y="348" width="1" height="4" fill="#000"/>
<rect x="509" y="348" width="1" height="4" fill="#000"/>
<rect x="515" y="348" width="1" height="4" fill="#000"/>
<rect x="520" y="348" width="1" height="4" fill="#000"/>
<rect x="524" y="348" width="1" height="4" fill="#000"/>
<rect x="528" y="348" width="1" height="4" fill="#000"/>
<rect x="531" y="348" width="1" height="4" fill="#000"/>
<rect x="534" y="348" width="1" height="4" fill="#000"/>
<rect x="328" y="71" width="1" height="281" fill="#000"/>
<rect x="536" y="71" width="1" height="281" fill="#000"/>
<rect x="568" y="71" width="1" height="281" fill="#000"/>
<rect x="776" y="71" width="1" height="281" fill="#000"/>
<rect x="568" y="351" width="209" height="1" fill="#000"/>
<rect x="568" y="345" width="1" height="7" fill="#000"/>
<rect x="578" y="348" width="1" height="4" fill="#000"/>
<rect x="589" y="348" width="1" height="4" fill="#000"/>
<rect x="599" y="348" width="1" height="4" fill="#000"/>
<rect x="610" y="345" width="1" height="7" fill="#000"/>
<rect x="620" y="348" width="1" height="4" fill="#000"/>
<rect x="630" y="348" width="1" height="4" fill="#000"/>
<rect x="641" y="348" width="1" height="4" fill="#000"/>
<rect x="651" y="345" width="1" height="7" fill="#000"/>
<rect x="662" y="348" width="1" height="4" fill="#000"/>
<rect x="672" y="348" width="1" height="4" fill="#000"/>
<rect x="682" y="348" width="1" height="4" fill="#000"/>
<rect x="693" y="345" width="1" height="7" fill="#000"/>
<rect x="703" y="348" width="1" height="4" fill="#000"/>
<rect x="714" y="348" width="1" height="4" fill="#000"/>
<rect x="724" y="348" width="1" height="4" fill="#000"/>
<rect x="734" y="345" width="1" height="7" fill="#000"/>
<rect x="745" y="348" width="1" height="4" fill="#000"/>
<rect x="755" y="348" width="1" height="4" fill="#000"/>
<rect x="766" y="348" width="1" height="4" fill="#000"/>
<rect x="776" y="345" width="1" height="7" fill="#000"/>
<rect x="568" y="71" width="209" height="1" fill="#ff0000"/>
<rect x="568" y="71" width="1" height="7" fill="#ff0000"/>
<rect x="578" y="71" width="1" height="4" fill="#ff0000"/>
<rect x="589" y="71" width="1" height="4" fill="#ff0000"/>
<rect x="599" y="71" width="1" height="4" fill="#ff0000"/>
<rect x="610" y="71" width="1" height="7" fill="#ff0000"/>
<rect x="620" y="71" width="1" height="4" fill="#ff0000"/>
<rect x="630" y="71" width="1" height="4" fill="#ff0000"/>
<rect x="641" y="71" width="1" height="4" fill="#ff0000"/>
<rect x="651" y="71" width="1" height="7" fill="#ff0000"/>
<rect x="662" y="71" width="1" height="4" fill="#ff0000"/>
<rect x="672" y="71" width="1" height="4" fill="#ff0000"/>
<rect x="682" y="71" width="1" height="4" fill="#ff0000"/>
<rect x="693" y="71" width="1" height="7" fill="#ff0000"/>
<rect x="703" y="71" width="1" height="4" fill="#ff0000"/>
<rect x="714" y="71" width="1" height="4" fill="#ff0000"/>
<rect x="724" y="71" width="1" height="4" fill="#ff0000"/>
<rect x="734" y="71" width="1" height="7" fill="#ff0000"/>
<rect x="745" y="71" width="1" height="4" fill="#ff0000"/>
<rect x="755" y="71" width="1" height="4" fill="#ff0000"/>
<rect x="766" y="71" width="1" height="4" fill="#ff0000"/>
<rect x="776" y="71" width="1" height="7" fill="#ff0000"/>
<rect x="432" y="72" width="1" height="1" fill="#ff0000"/>
<rect x="432" y="76" width="1" height="1" fill="#ff0000"/>
<rect x="432" y="80" width="1" height="1" fill="#ff0000"/>
<rect x="432" y="84" width="1" height="1" fill="#ff0000"/>
<rect x="432" y="88" width="1" height="1" fill="#ff0000"/>
<rect x="432" y="92" width="1" height="1" fill="#ff0000"/>
<rect x="432" y="96" width="1" height="1" fill="#ff0000"/>
<rect x="432" y="100" width="1" height="1" fill="#ff0000"/>
<rect x="432" y="104" width="1" height="1" fill="#ff0000"/>
<rect x="432" y="108" width="1" height="1" fill="#ff0000"/>
<rect x="432" y="112" width="1" height="1" fill="#ff0000"/>
<rect x="432" y="116" width="1" height="1" fill="#ff0000"/>
<rect x="432" y="120" width="1" height="1" fill="#ff0000"/>
<rect x="432" y="124" width="1" height="1" fill="#ff0000"/>
<rect x="432" y="128" width="1" height="1" fill="#ff0000"/>
<rect x="432" y="132" width="1" height="1" fill="#ff0000"/>
<rect x="432" y="136" width="1" height="1" fill="#ff0000"/>
<rect x="432" y="140" width="1" height="1" fill="#ff0000"/>
<rect x="432" y="144" width="1" height="1" fill="#ff0000"/>
<rect x="432" y="148" width="1" height="1" fill="#ff0000"/>
<rect x="432" y="152" width="1" height="1" fill="#ff0000"/>
<rect x="432" y="156" width="1" height="1" fill="#ff0000"/>
<rect x="432" y="160" width="1" height="1" fill="#ff0000"/>
<rect x="432" y="164" width="1" height="1" fill="#ff0000"/>
<rect x="432" y="168" width="1" height="1" fill="#ff0000"/>
<rect x="432" y="172" width="1" height="1" fill="#ff0000"/>
<rect x="432" y="176" width="1" height="1" fill="#ff0000"/>
<rect x="432" y="180" width="1" height="1" fill="#ff0000"/>
<rect x="432" y="184" width="1" height="1" fill="#ff0000"/>
<rect x="432" y="188" width="1" height="1" fill="#ff0000"/>
<rect x="432" y="192" width="1" height="1" fill="#ff0000"/>
<rect x="432" y="196" width="1" height="1" fill="#ff0000"/>
<rect x="432" y="200" width="1" height="1" fill="#ff0000"/>
<rect x="432" y="204" width="1" height="1" fill="#ff0000"/>
<rect x="432" y="208" width="1" height="1" fill="#ff0000"/>
<rect x="432" y="212" width="1" height="1" fill="#ff0000"/>
<rect x="432" y="216" width="1" height="1" fill="#ff0000"/>
<rect x="432" y="220" width="1" height="1" fill="#ff0000"/>
<rect x="432" y="224" width="1" height="1" fill="#ff0000"/>
<rect x="432" y="228" width="1" height="1" fill="#ff0000"/>
<rect x="432" y="232" width="1" height="1" fill="#ff0000"/>
<rect x="432" y="236" width="1" height="1" fill="#ff0000"/>
<rect x="432" y="240" width="1" height="1" fill="#ff0000"/>
<rect x="432" y="244" width="1" height="1" fill="#ff0000"/>
<rect x="432" y="248" width="1" height="1" fill="#ff0000"/>
<rect x="432" y="252" width="1" height="1" fill="#ff0000"/>
<rect x="432" y="256" width="1" height="1" fill="#ff0000"/>
<rect x="432" y="260" width="1" height="1" fill="#ff0000"/>
<rect x="432" y="264" width="1" height="1" fill="#ff0000"/>
<rect x="432" y="268" width="1" height="1" fill="#ff0000"/>
<rect x="432" y="272" width="1" height="1" fill="#ff0000"/>
<rect x="432" y="276" width="1" height="1" fill="#ff0000"/>
<rect x="432" y="280" width="1" height="1" fill="#ff0000"/>
<rect x="432" y="284" width="1" height="1" fill="#ff0000"/>
<rect x="432" y="288" width="1" height="1" fill="#ff0000"/>
<rect x="432" y="292" width="1" height="1" fill="#ff0000"/>
<rect x="432" y="296" width="1" height="1" fill="#ff0000"/>
<rect x="432" y="300" width="1" height="1" fill="#ff0000"/>
<rect x="432" y="304" width="1" height="1" fill="#ff0000"/>
<rect x="432" y="308" width="1" height="1" fill="#ff0000"/>
<rect x="432" y="312" width="1" height="1" fill="#ff0000"/>
<rect x="432" y="316" width="1" height="1" fill="#ff0000"/>
<rect x="432" y="320" width="1" height="1" fill="#ff0000"/>
<rect x="432" y="324" width="1" height="1" fill="#ff0000"/>
<rect x="432" y="328" width="1" height="1" fill="#ff0000"/>
<rect x="432" y="332" width="1" height="1" fill="#ff0000"/>
<rect x="432" y="336" width="1" height="1" fill="#ff0000"/>
<rect x="432" y="340" width="1" height="1" fill="#ff0000"/>
<rect x="432" y="344" width="1" height="1" fill="#ff0000"/>
<rect x="432" y="348" width="1" height="1" fill="#ff0000"/>
<text y="15.60" fill="#000" font-size="13"><tspan x="243.60" textLength="182.65" lengthAdjust="spacing">VAD_08_20150702_163111,</tspan> <tspan x="435.50" textLength="121.50" lengthAdjust="spacing">20150702.163128</tspan></text>
<text y="31.50" fill="#000" font-size="13"><tspan x="103.75" textLength="51.25" lengthAdjust="spacing">Nbeams</tspan> <tspan x="164.50" textLength="9.50" lengthAdjust="spacingAndGlyphs">=</tspan> <tspan x="180.50" textLength="11.50" lengthAdjust="spacing">8,</tspan> <tspan x="200.50" textLength="57.50" lengthAdjust="spacing">Elevation</tspan> <tspan x="265.00" textLength="34.50" lengthAdjust="spacing">angle</tspan> <tspan x="308.70" textLength="9.50" lengthAdjust="spacingAndGlyphs">=</tspan> <tspan x="325.00" textLength="37.50" lengthAdjust="spacing">70.0°,</tspan> <tspan x="370.50" textLength="29.00" lengthAdjust="spacing">scan</tspan> <tspan x="407.50" textLength="52.00" lengthAdjust="spacing">duration</tspan> <tspan x="468.70" textLength="9.50" lengthAdjust="spacingAndGlyphs">=</tspan> <tspan x="485.50" textLength="28.25" lengthAdjust="spacing">30.3</tspan> <tspan x="522.00" textLength="10.00" lengthAdjust="spacing">s,</tspan> <tspan x="540.00" textLength="25.00" lengthAdjust="spacing">SNR</tspan> <tspan x="573.00" textLength="60.00" lengthAdjust="spacing">Threshold</tspan> <tspan x="643.20" textLength="9.50" lengthAdjust="spacingAndGlyphs">=</tspan> <tspan x="659.50" textLength="36.75" lengthAdjust="spacing">0.008</tspan></text>
<text y="53.60" fill="#ff0000" font-size="13"><tspan x="105.50" textLength="27.50" lengthAdjust="spacing">Wind</tspan> <tspan x="141.25" textLength="56.75" lengthAdjust="spacing">Direction</tspan> <tspan x="205.50" textLength="35.00" lengthAdjust="spacing">(deg)</tspan></text>
<text y="53.80" fill="#ff0000" font-size="13"><tspan x="355.50" textLength="47.90" lengthAdjust="spacing">Vertical</tspan> <tspan x="410.50" textLength="47.50" lengthAdjust="spacing">velocity</tspan></text>
<text x="465.40" y="54.00" fill="#ff0000" font-size="15.5">(</text>
<text y="53.80" fill="#ff0000" font-size="13"><tspan x="472.25" textLength="18.35" lengthAdjust="spacing">ms</tspan></text>
<text y="47.40" fill="#ff0000" font-size="9.5"><tspan x="491.70" textLength="6.8" lengthAdjust="spacingAndGlyphs">−</tspan><tspan x="498.60">1</tspan></text>
<text x="503.60" y="54.00" fill="#ff0000" font-size="15.5">)</text>
<text x="637.00" y="53.80" fill="#ff0000" font-size="13" textLength="69.25" lengthAdjust="spacing" >Correlation</text>
<text x="45.00" y="65.60" fill="#ff0000" font-size="13" textLength="7.00" lengthAdjust="spacing" >0</text>
<text x="105.50" y="65.60" fill="#ff0000" font-size="13" textLength="23.25" lengthAdjust="spacing" >100</text>
<text x="174.55" y="65.60" fill="#ff0000" font-size="13" textLength="23.50" lengthAdjust="spacing" >200</text>
<text x="243.45" y="65.60" fill="#ff0000" font-size="13" textLength="23.50" lengthAdjust="spacing" >300</text>
<text y="65.60" fill="#ff0000" font-size="13"><tspan x="315.40" textLength="8.40" lengthAdjust="spacingAndGlyphs">−</tspan> <tspan x="328.00" textLength="13.25" lengthAdjust="spacing">10</tspan></text>
<text y="65.60" fill="#ff0000" font-size="13"><tspan x="372.00" textLength="8.40" lengthAdjust="spacingAndGlyphs">−</tspan> <tspan x="382.80" textLength="6.70" lengthAdjust="spacing">5</tspan></text>
<text x="428.75" y="65.60" fill="#ff0000" font-size="13" textLength="7.00" lengthAdjust="spacing" >0</text>
<text x="482.00" y="65.60" fill="#ff0000" font-size="13" textLength="6.75" lengthAdjust="spacing" >5</text>
<text x="529.50" y="65.60" fill="#ff0000" font-size="13" textLength="14.25" lengthAdjust="spacing" >10</text>
<text x="558.00" y="65.60" fill="#ff0000" font-size="13" textLength="20.00" lengthAdjust="spacing" >0.0</text>
<text x="600.00" y="65.60" fill="#ff0000" font-size="13" textLength="19.50" lengthAdjust="spacing" >0.2</text>
<text x="641.25" y="65.60" fill="#ff0000" font-size="13" textLength="20.00" lengthAdjust="spacing" >0.4</text>
<text x="683.00" y="65.60" fill="#ff0000" font-size="13" textLength="20.00" lengthAdjust="spacing" >0.6</text>
<text x="724.50" y="65.60" fill="#ff0000" font-size="13" textLength="20.00" lengthAdjust="spacing" >0.8</text>
<text x="768.00" y="65.60" fill="#ff0000" font-size="13" textLength="18.25" lengthAdjust="spacing" >1.0</text>
<text x="45.00" y="369.80" fill="#000" font-size="13" textLength="7.00" lengthAdjust="spacing" >0</text>
<text x="106.95" y="369.80" fill="#000" font-size="13" textLength="6.90" lengthAdjust="spacing" >5</text>
<text x="165.60" y="369.80" fill="#000" font-size="13" textLength="14.40" lengthAdjust="spacing" >10</text>
<text x="227.50" y="369.80" fill="#000" font-size="13" textLength="14.75" lengthAdjust="spacing" >15</text>
<text x="288.00" y="369.80" fill="#000" font-size="13" textLength="15.75" lengthAdjust="spacing" >20</text>
<text x="310.00" y="369.80" fill="#000" font-size="13" textLength="35.00" lengthAdjust="spacing" >0.001</text>
<text x="362.00" y="369.80" fill="#000" font-size="13" textLength="36.00" lengthAdjust="spacing" >0.010</text>
<text x="413.75" y="369.80" fill="#000" font-size="13" textLength="36.25" lengthAdjust="spacing" >0.100</text>
<text x="467.00" y="369.80" fill="#000" font-size="13" textLength="35.00" lengthAdjust="spacing" >1.000</text>
<text x="515.50" y="369.80" fill="#000" font-size="13" textLength="42.50" lengthAdjust="spacing" >10.000</text>
<text x="565.00" y="369.80" fill="#000" font-size="13" textLength="7.00" lengthAdjust="spacing" >0</text>
<text x="606.30" y="369.80" fill="#000" font-size="13" textLength="7.40" lengthAdjust="spacing" >2</text>
<text x="648.00" y="369.80" fill="#000" font-size="13" textLength="7.50" lengthAdjust="spacing" >4</text>
<text x="689.50" y="369.80" fill="#000" font-size="13" textLength="7.00" lengthAdjust="spacing" >6</text>
<text x="731.10" y="369.80" fill="#000" font-size="13" textLength="7.00" lengthAdjust="spacing" >8</text>
<text x="770.00" y="369.80" fill="#000" font-size="13" textLength="14.50" lengthAdjust="spacing" >10</text>
<text y="385.50" fill="#000" font-size="13"><tspan x="109.00" textLength="28.60" lengthAdjust="spacing">Wind</tspan> <tspan x="145.60" textLength="38.70" lengthAdjust="spacing">Speed</tspan></text>
<text x="191.90" y="385.70" fill="#000" font-size="15.5">(</text>
<text y="385.50" fill="#000" font-size="13"><tspan x="198.75" textLength="18.35" lengthAdjust="spacing">ms</tspan></text>
<text y="379.10" fill="#000" font-size="9.5"><tspan x="218.20" textLength="6.8" lengthAdjust="spacingAndGlyphs">−</tspan><tspan x="225.10">1</tspan></text>
<text x="230.10" y="385.70" fill="#000" font-size="15.5">)</text>
<text x="419.60" y="385.50" fill="#000" font-size="13" textLength="26.00" lengthAdjust="spacing" >SNR</text>
<text y="385.50" fill="#000" font-size="13"><tspan x="621.25" textLength="52.95" lengthAdjust="spacing">Residual</tspan></text>
<text x="680.65" y="385.70" fill="#000" font-size="15.5">(</text>
<text y="385.50" fill="#000" font-size="13"><tspan x="687.50" textLength="18.35" lengthAdjust="spacing">ms</tspan></text>
<text y="379.10" fill="#000" font-size="9.5"><tspan x="706.95" textLength="6.8" lengthAdjust="spacingAndGlyphs">−</tspan><tspan x="713.85">1</tspan></text>
<text x="718.85" y="385.70" fill="#000" font-size="15.5">)</text>
<text x="586.25" y="395.20" fill="#000" font-size="8.2" textLength="205.00" lengthAdjust="spacing" >Plot created on Mon Oct 12 20:33:51 2015</text>
<text x="23.60" y="80.00" fill="#000" font-size="13" textLength="19.80" lengthAdjust="spacing" >2.0</text>
<text x="24.20" y="146.20" fill="#000" font-size="13" textLength="19.20" lengthAdjust="spacing" >1.5</text>
<text x="24.50" y="216.20" fill="#000" font-size="13" textLength="20.00" lengthAdjust="spacing" >1.0</text>
<text x="24.00" y="286.50" fill="#000" font-size="13" textLength="19.60" lengthAdjust="spacing" >0.5</text>
<text x="23.70" y="351.60" fill="#000" font-size="13" textLength="19.80" lengthAdjust="spacing" >0.0</text>
<text transform="translate(13.4 247.5) rotate(-90)" fill="#000" font-size="13" textLength="72.5" lengthAdjust="spacing">z (km AGL)</text>
</g>
</svg>
</body></html>
